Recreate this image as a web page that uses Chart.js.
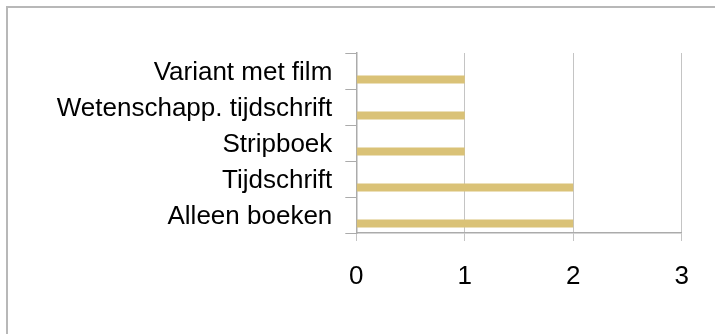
<!DOCTYPE html>
<html>
<head>
<meta charset="utf-8">
<script src="https://cdn.jsdelivr.net/npm/chart.js"></script>
<style>
  html, body { margin: 0; padding: 0; background: #fff; }
  #wrap { position: relative; width: 715px; height: 334px; overflow: hidden; }
  #frame { position: absolute; left: 6px; top: 6px; width: 730px; height: 350px; border: 2px solid #b8b8b8; box-sizing: border-box; }
  #chart { position: absolute; left: 0; top: 0; }
</style>
</head>
<body>
<div id="wrap">
  <div id="frame"></div>
  <canvas id="chart" width="715" height="334"></canvas>
</div>
<script>
// categories top to bottom
const categories = ['Variant met film', 'Wetenschapp. tijdschrift', 'Stripboek', 'Tijdschrift', 'Alleen boeken'];
const counts = [1, 1, 1, 2, 2];
const spacer = [null, null, null, null, null]; // empty series, keeps bars in the lower slot
const xTicks = [0, 1, 2, 3];

const gridColor = '#c4c4c4';
const axisColor = '#ababab';
const labelFont = { family: '"Liberation Sans", Arial, sans-serif', size: 26 };

new Chart(document.getElementById('chart').getContext('2d'), {
  type: 'bar',
  data: {
    labels: categories,
    datasets: [
      { label: 'spacer', data: spacer, backgroundColor: 'rgba(0,0,0,0)' },
      { label: 'Aantal', data: counts, backgroundColor: '#dac277', borderWidth: 0 }
    ]
  },
  options: {
    indexAxis: 'y',
    responsive: false,
    animation: false,
    categoryPercentage: 0.944,
    barPercentage: 0.47,
    layout: { padding: { top: 53, right: 33.3, bottom: 0, left: 0 } },
    plugins: { legend: { display: false }, tooltip: { enabled: false } },
    scales: {
      x: {
        min: xTicks[0],
        max: xTicks[xTicks.length - 1],
        afterBuildTicks: (s) => { s.ticks = xTicks.map(v => ({ value: v })); },
        afterFit: (s) => { s.height = 101; },
        grid: { color: gridColor, lineWidth: 1, tickLength: 8, drawOnChartArea: true },
        border: { color: axisColor, width: 1.5 },
        ticks: { color: '#000', font: labelFont, padding: 20, maxRotation: 0 }
      },
      y: {
        afterFit: (s) => { s.width = 356.3; },
        grid: { color: axisColor, lineWidth: 1, tickLength: 11, drawOnChartArea: false, offset: true },
        border: { color: axisColor, width: 1.5 },
        ticks: { color: '#000', font: labelFont, padding: 13, labelOffset: 2, crossAlign: 'near' }
      }
    }
  }
});
</script>
</body>
</html>
